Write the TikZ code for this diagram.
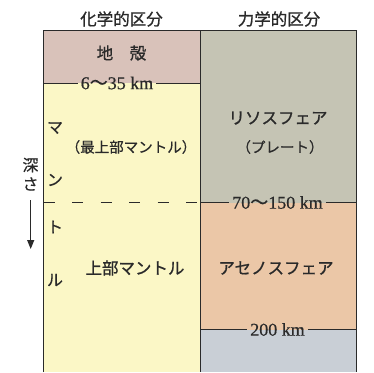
\documentclass[tikz,border=0pt]{standalone}
\usepackage{fontspec}
\setmainfont{Liberation Serif}
\newfontfamily\numf[FakeBold=0.6]{Liberation Serif}
\newfontfamily\jp[FakeBold=0.9]{Noto Sans CJK JP}
\newfontfamily\jpn[FakeBold=0.4]{Noto Sans CJK JP}
\usetikzlibrary{arrows.meta}
\definecolor{crust}{HTML}{D9C2BA}
\definecolor{mantle}{HTML}{FBF7C6}
\definecolor{litho}{HTML}{C5C4B4}
\definecolor{astheno}{HTML}{EBC7A7}
\definecolor{deep}{HTML}{C9CFD6}
\definecolor{ink}{HTML}{2A2A2A}
\tikzset{
  frame/.style={draw=ink, line width=0.9pt},
  jplabel/.style={font=\jp\fontsize{16.5}{16.5}\selectfont, text=ink, inner sep=0pt},
  jpsmall/.style={font=\jpn\fontsize{14.5}{14.5}\selectfont, text=ink, inner sep=0pt},
  jpvert/.style={font=\jpn\fontsize{16}{16}\selectfont, text=ink, inner sep=0pt},
  kmlabel/.style={font=\numf\fontsize{18}{18}\selectfont, text=ink, inner sep=3pt},
  bound/.style={draw=ink, line width=0.8pt},
}
\begin{document}
\begin{tikzpicture}[x=1pt,y=-1pt]
\useasboundingbox (0,0) rectangle (374,372);
\fill[white] (0,0) rectangle (374,372);
% layers
\fill[crust] (43.5,30.5) rectangle (200,83);
\fill[mantle] (43.5,83) rectangle (200,372);
\fill[litho] (200,30.5) rectangle (356.5,202.5);
\fill[astheno] (200,202.5) rectangle (356.5,329.5);
\fill[deep] (200,329.5) rectangle (356.5,372);
% frame
\draw[frame] (43.5,372) -- (43.5,30.5) -- (356.5,30.5) -- (356.5,372);
\draw[frame] (200,30.5) -- (200,372);
% headers
\node[jplabel] (h1) at (121.5,19) {化学的区分};
\node[jplabel] (h2) at (279,19) {力学的区分};
% crust
\node[jplabel] (crust) at (121.5,53) {地　殻};
\node[kmlabel] (d1) at (117,83) {6{\jpn ～}35 km};
\coordinate (d1l) at (43.5,83);
\coordinate (d1r) at (200,83);
\draw[bound] (d1l) -- (d1.west);
\draw[bound] (d1.east) -- (d1r);
% lithosphere
\node[jplabel] (litho) at (278,118) {リソスフェア};
\node[jpsmall] (plate) at (280,147) {（プレート）};
\node[jpsmall] (uppermost) at (131,147) {（最上部マントル）};
% mantle vertical
\node[jpvert] (m1) at (55,128) {マ};
\node[jpvert] (m2) at (55,180) {ン};
\node[jpvert] (m3) at (55,227) {ト};
\node[jpvert] (m4) at (55,280) {ル};
% depth
\node[jpvert] (fuka1) at (30.5,165) {深};
\node[jpvert] (fuka2) at (30.5,184) {さ};
\coordinate (arrs) at (30.7,200);
\coordinate (arre) at (30.7,249);
\draw[draw=ink, line width=1.1pt, -{Triangle[length=9pt,width=7pt]}] (arrs) -- (arre);
% dashed boundary
\coordinate (dl) at (43.5,202.5);
\coordinate (dr) at (200,202.5);
\draw[draw=ink, line width=1.4pt, dash pattern=on 11pt off 17.5pt] (dl) -- (dr);
% 70-150 km
\node[kmlabel] (d2) at (277.5,202.5) {70{\jpn ～}150 km};
\coordinate (d2l) at (200,202.5);
\coordinate (d2r) at (356.5,202.5);
\draw[bound] (d2l) -- (d2.west);
\draw[bound] (d2.east) -- (d2r);
% asthenosphere
\node[jplabel] (upper) at (135,268) {上部マントル};
\node[jplabel] (astheno) at (276,268) {アセノスフェア};
% 200 km
\node[kmlabel] (d3) at (277.5,329.5) {200 km};
\coordinate (d3l) at (200,329.5);
\coordinate (d3r) at (356.5,329.5);
\draw[bound] (d3l) -- (d3.west);
\draw[bound] (d3.east) -- (d3r);
\end{tikzpicture}
\end{document}
